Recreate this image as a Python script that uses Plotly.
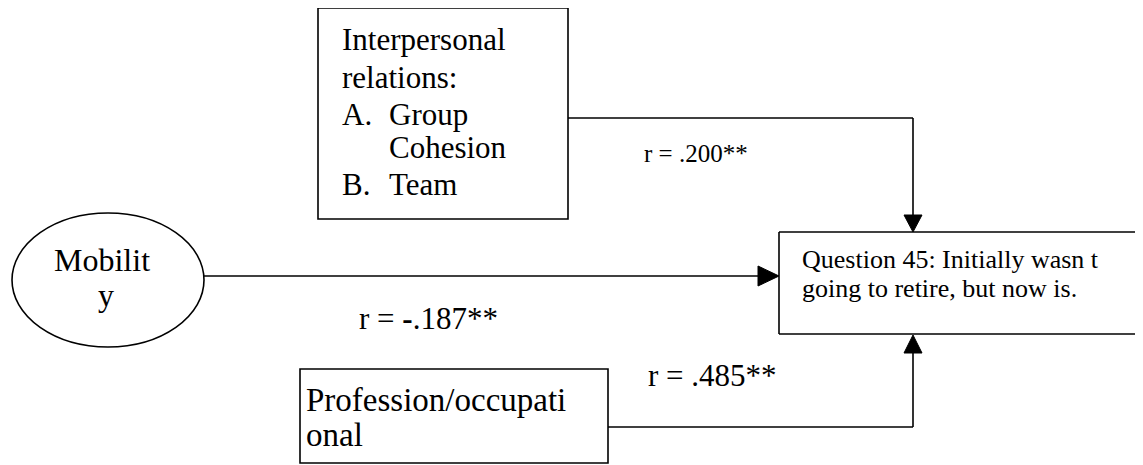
import plotly.graph_objects as go

# ---- content ----
top_box_lines = ["Interpersonal", "relations:", "A.", "Group", "Cohesion", "B.", "Team"]
mobility_lines = ["Mobilit", "y"]
outcome_lines = ["Question 45: Initially wasn t", "going to retire, but now is."]
profession_lines = ["Profession/occupati", "onal"]
r_labels = ["r = .200**", "r = <b>-</b>.187**", "r = .485**"]

W, H = 1143, 465
PAD = 8  # page body margin in the browser
FONT = "Liberation Serif, Times New Roman, serif"
LW = 1.6

fig = go.Figure()
shapes = []
ann = []

def rect(x0, y0, x1, y1):
    shapes.append(dict(type="rect", x0=x0, y0=y0, x1=x1, y1=y1,
                       line=dict(color="black", width=LW), fillcolor="rgba(0,0,0,0)"))

def line(x0, y0, x1, y1):
    shapes.append(dict(type="line", x0=x0, y0=y0, x1=x1, y1=y1,
                       line=dict(color="black", width=LW)))

def tri(p):
    path = "M %f,%f L %f,%f L %f,%f Z" % (p[0][0], p[0][1], p[1][0], p[1][1], p[2][0], p[2][1])
    shapes.append(dict(type="path", path=path, fillcolor="black",
                       line=dict(color="black", width=1)))

def text(t, x, baseline, size, anchor="left"):
    ann.append(dict(text=t, x=x, y=baseline - 0.34 * size, xref="x", yref="y",
                    xanchor=anchor, yanchor="middle", showarrow=False,
                    font=dict(family=FONT, size=size, color="black")))

# boxes
rect(318, 8, 568, 219)
# outcome box runs off the right edge: draw only top, left and bottom sides
line(779, 232, 1150, 232)
line(779, 232, 779, 334)
line(779, 334, 1150, 334)
rect(300, 369, 608, 463)
shapes.append(dict(type="circle", x0=12, y0=213, x1=204, y1=347,
                   line=dict(color="black", width=LW), fillcolor="rgba(0,0,0,0)"))

# connectors
line(568, 118, 913, 118)
line(913, 118, 913, 216)
tri([(904, 215), (922, 215), (913, 232)])

line(204, 276, 759, 276)
tri([(758, 266), (758, 286), (779, 276)])

line(608, 427, 913, 427)
line(913, 427, 913, 352)
tri([(904, 353), (922, 353), (913, 335)])

# top box text
fs = 31
text(top_box_lines[0], 340, 50, fs)
text(top_box_lines[1], 340, 88, fs)
text(top_box_lines[2], 340, 125, fs)
text(top_box_lines[3], 387, 125, fs)
text(top_box_lines[4], 387, 158, fs)
text(top_box_lines[5], 340, 195, fs)
text(top_box_lines[6], 387, 195, fs)

# mobility
text(mobility_lines[0], 102, 271, 32, "center")
text(mobility_lines[1], 106, 306, 32, "center")

# outcome
text(outcome_lines[0], 800, 268, 26)
text(outcome_lines[1], 800, 297, 26)

# profession
text(profession_lines[0], 304, 411, 33)
text(profession_lines[1], 304, 446, 33)

# r labels
text(r_labels[0], 642, 162, 25)
text(r_labels[1], 357, 329, 31)
text(r_labels[2], 646, 386, 31)

fig.update_layout(
    width=W - PAD, height=H - PAD,
    margin=dict(l=0, r=0, t=0, b=0),
    paper_bgcolor="white", plot_bgcolor="white",
    xaxis=dict(range=[PAD, W], visible=False, fixedrange=True),
    yaxis=dict(range=[H, PAD], visible=False, fixedrange=True),
    shapes=shapes, annotations=ann, showlegend=False,
)
fig.write_html("out.html")
